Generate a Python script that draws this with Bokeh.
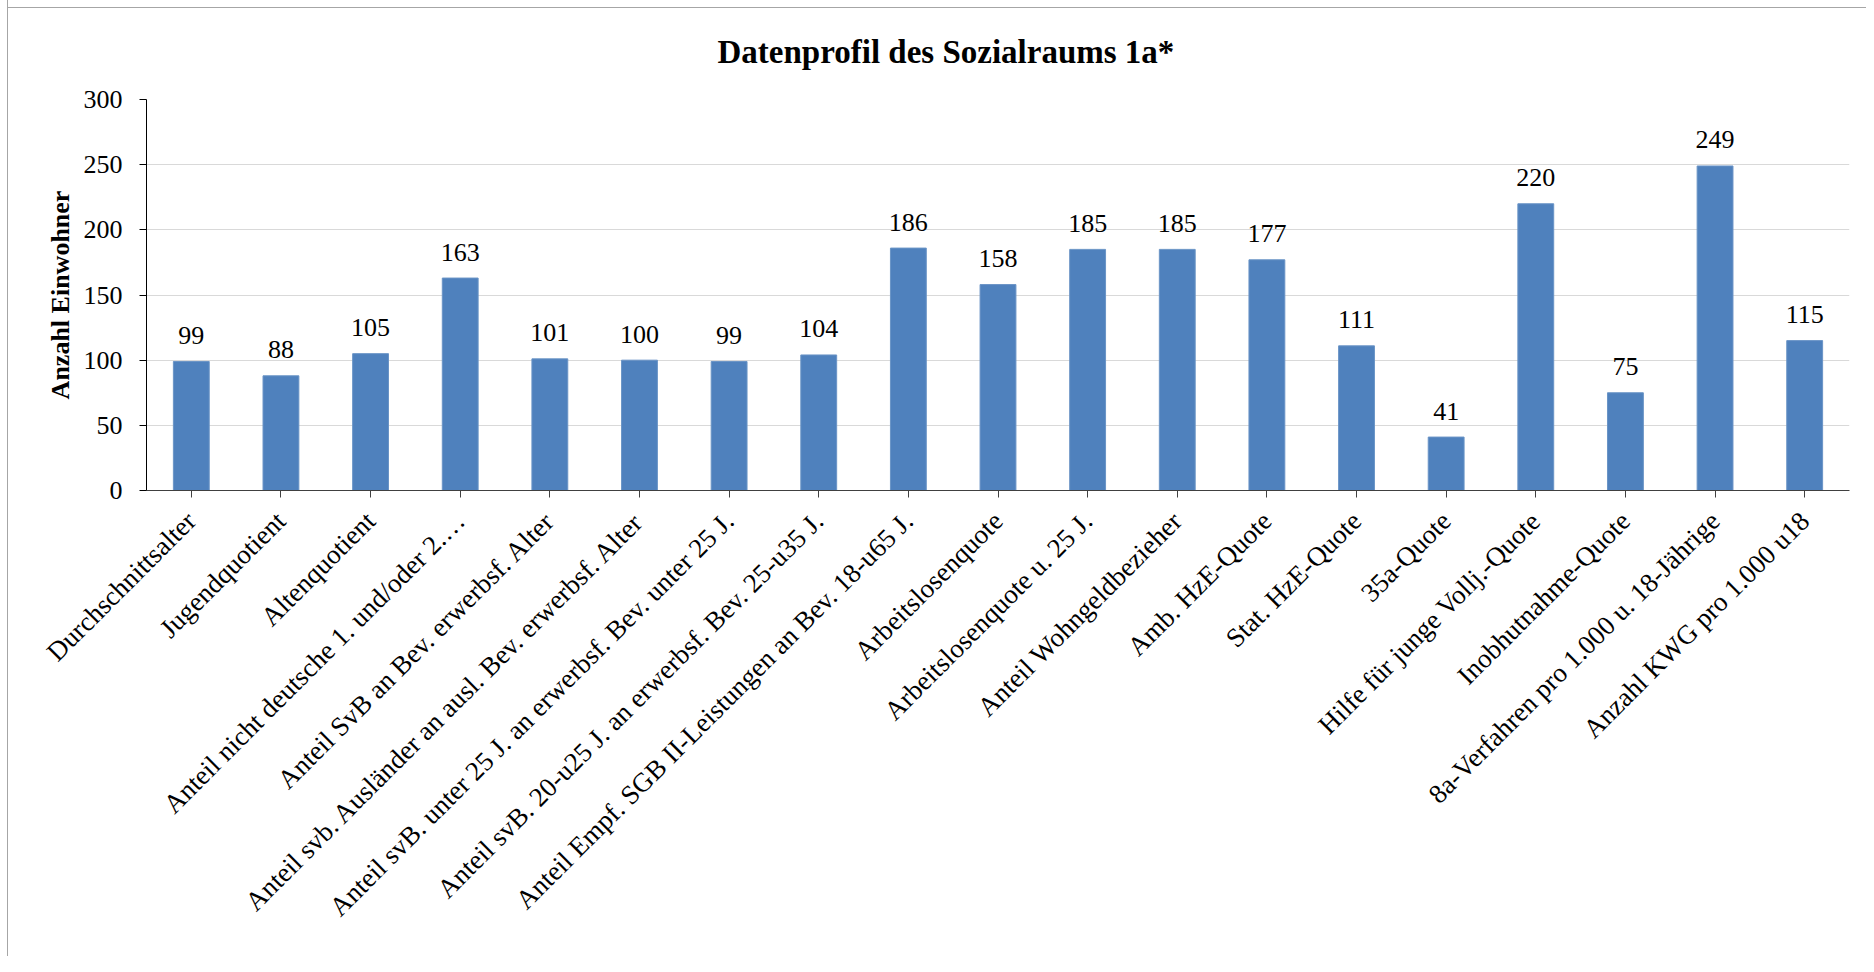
import math
from bokeh.plotting import figure
from bokeh.models import FactorRange, Range1d, FixedTicker
from bokeh.core.properties import value
from bokeh.embed import file_html
from bokeh.resources import INLINE

# ---- data ----
categories = [
    "Durchschnittsalter",
    "Jugendquotient",
    "Altenquotient",
    "Anteil nicht deutsche 1. und/oder 2.…",
    "Anteil SvB an Bev. erwerbsf. Alter",
    "Anteil svb. Ausländer an ausl. Bev. erwerbsf. Alter",
    "Anteil svB. unter 25 J. an erwerbsf. Bev. unter 25 J.",
    "Anteil svB. 20-u25 J. an erwerbsf. Bev. 25-u35 J.",
    "Anteil Empf. SGB II-Leistungen an Bev. 18-u65 J.",
    "Arbeitslosenquote",
    "Arbeitslosenquote u. 25 J.",
    "Anteil Wohngeldbezieher",
    "Amb. HzE-Quote",
    "Stat. HzE-Quote",
    "35a-Quote",
    "Hilfe für junge Vollj.-Quote",
    "Inobhutnahme-Quote",
    "8a-Verfahren pro 1.000 u. 18-Jährige",
    "Anzahl KWG pro 1.000 u18",
]
values = [99, 88, 105, 163, 101, 100, 99, 104, 186, 158, 185, 185, 177, 111, 41, 220, 75, 249, 115]
y_ticks = [0, 50, 100, 150, 200, 250, 300]

title_text = "Datenprofil des Sozialraums 1a*"
y_label = "Anzahl Einwohner"

FONT = "Liberation Serif"
BAR = "#4F81BD"

p = figure(
    x_range=FactorRange(factors=categories),
    y_range=Range1d(0, 300),
    frame_width=1703,
    frame_height=391,
    min_border_left=138,
    min_border_top=99,
    min_border_right=17,
    min_border_bottom=466,
    output_backend="svg",
    toolbar_location=None,
    tools="",
)
p.styles = {
    "margin-left": "7px",
    "border-left": "1px solid #a6a6a6",
    "background": "linear-gradient(#a6a6a6, #a6a6a6) 0 7px / 100% 1px no-repeat, white",
}
p.outline_line_color = None
p.background_fill_color = "white"
p.border_fill_color = None

# title
p.title.text = title_text
p.title.text_font = FONT
p.title.text_font_size = "33px"
p.title.text_font_style = "bold"
p.title.text_color = "black"
p.title.align = "left"
p.title.offset = 571
p.title.standoff = 60

p.vbar(x=categories, top=values, width=0.4, fill_color=BAR, line_color="#6a94c6", line_width=1)

p.text(
    x=categories, y=values, text=[str(v) for v in values],
    text_font=value(FONT), text_font_size="26px", text_color="black",
    text_align="center", text_baseline="alphabetic", y_offset=-26,
)

# grids
p.xgrid.grid_line_color = None
p.ygrid.grid_line_color = "#d9d9d9"
p.ygrid.grid_line_width = 1

# y axis
p.yaxis.ticker = FixedTicker(ticks=y_ticks)
p.yaxis.axis_line_color = "black"
p.yaxis.major_tick_line_color = "black"
p.yaxis.major_tick_out = 7
p.yaxis.major_tick_in = 0
p.yaxis.minor_tick_line_color = None
p.yaxis.major_label_standoff = 17
p.yaxis.major_label_text_font = FONT
p.yaxis.major_label_text_font_size = "26px"
p.yaxis.major_label_text_color = "black"
p.yaxis.axis_label = y_label
p.yaxis.axis_label_text_font = FONT
p.yaxis.axis_label_text_font_size = "26px"
p.yaxis.axis_label_text_font_style = "bold"
p.yaxis.axis_label_text_color = "black"
p.yaxis.axis_label_standoff = 6

# x axis
p.xaxis.axis_line_color = "#404040"
p.xaxis.major_tick_line_color = "#404040"
p.xaxis.major_tick_out = 7
p.xaxis.major_tick_in = 0
p.xaxis.minor_tick_line_color = None
p.xaxis.major_label_orientation = math.pi / 4
p.xaxis.major_label_standoff = 19
p.xaxis.major_label_text_font = FONT
p.xaxis.major_label_text_font_size = "27px"
p.xaxis.major_label_text_color = "black"

open("out.html", "w").write(file_html(p, INLINE))
